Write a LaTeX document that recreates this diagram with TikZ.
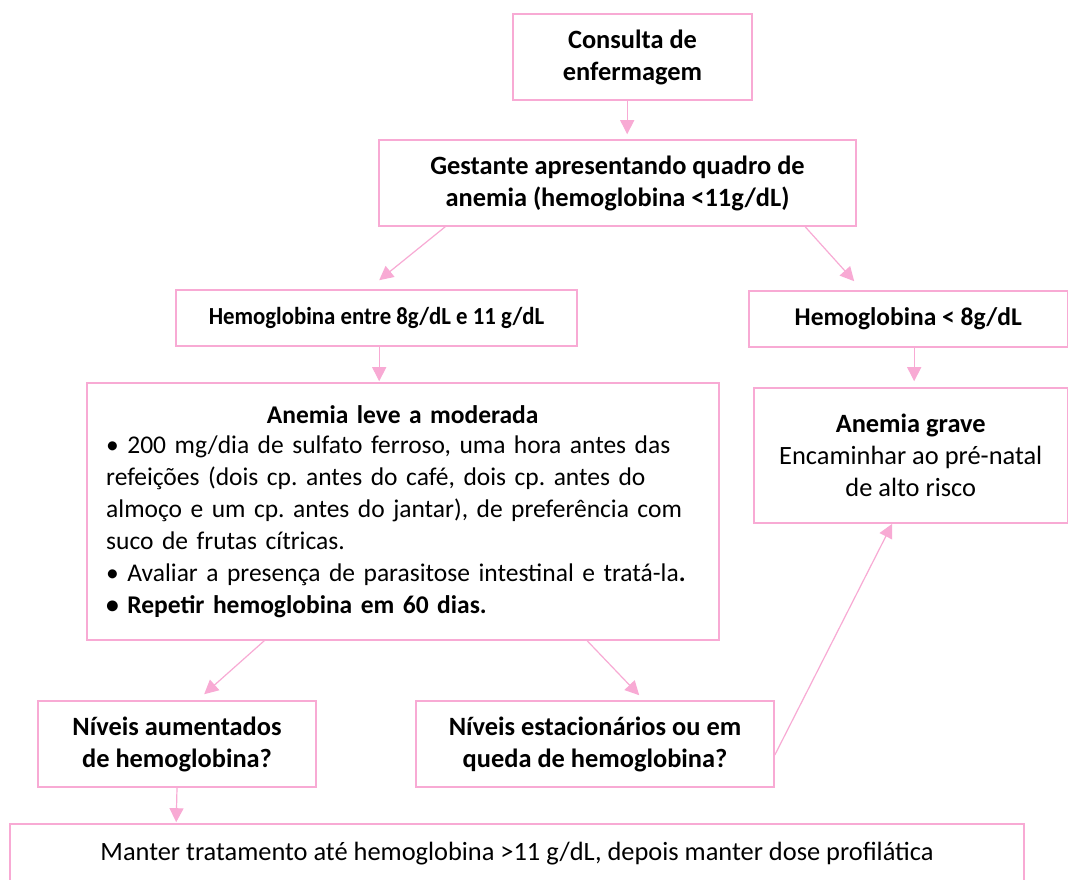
\documentclass[tikz,border=0pt]{standalone}
\usepackage{fontspec}
\setmainfont{Carlito}
\newfontfamily\narrowfont[FakeStretch=0.93]{Carlito}
\usetikzlibrary{arrows.meta,calc}
\definecolor{pk}{RGB}{248,170,212}
\begin{document}
\frenchspacing
\begin{tikzpicture}[x=1pt,y=-1pt,
  box/.style={draw=pk, line width=1.6pt, rectangle, inner sep=0pt,
    font=\fontsize{26.4}{32}\selectfont, align=center},
  bbox/.style={box, font=\fontsize{26.4}{32}\selectfont\bfseries},
  txt/.style={inner sep=0pt, font=\fontsize{25.5}{32}\selectfont},
  arr/.style={draw=pk, line width=1.2pt, -{Triangle[length=14pt,width=14pt]}},
]
\useasboundingbox (0,0) rectangle (1069,880);
\fill[white] (0,0) rectangle (1069,880);

\node[bbox, minimum width=239pt, minimum height=86pt] (b1) at (632.5,57) {Consulta de\\enfermagem};
\node[bbox, minimum width=477pt, minimum height=86pt] (b2) at (617.5,183) {Gestante apresentando quadro de\\anemia (hemoglobina <11g/dL)};
\node[bbox, minimum width=401pt, minimum height=56pt, font=\narrowfont\fontsize{24.5}{32}\selectfont\bfseries] (b3) at (376.5,318) {Hemoglobina entre 8g/dL e 11 g/dL};
\node[bbox, minimum width=318.5pt, minimum height=56pt, font=\fontsize{25.5}{32}\selectfont\bfseries] (b4) at (908.25,319) {Hemoglobina < 8g/dL};
\node[box, minimum width=313.5pt, minimum height=135pt] (b5) at (910.75,455.5) {\textbf{Anemia grave}\\Encaminhar ao pré-natal\\de alto risco};
\node[box, minimum width=632pt, minimum height=257pt] (b6) at (403,511.5) {};
\node[txt, anchor=north west, text width=593pt] (t6) at (106,405.5) {%
{\centering\bfseries Anemia leve a moderada\par}\vspace{-2pt}%
\noindent\makebox[\linewidth][s]{• 200 mg/dia de sulfato ferroso, uma hora antes das}\par
\noindent\makebox[\linewidth][s]{refeições (dois cp. antes do café, dois cp. antes do}\par
\noindent\makebox[\linewidth][s]{almoço e um cp. antes do jantar), de preferência com}\par
\noindent suco de frutas cítricas.\par
\noindent• Avaliar a presença de parasitose intestinal e tratá-la\textbf{.}\par
\noindent\textbf{• Repetir hemoglobina em 60 dias.}\par};
\node[bbox, minimum width=278pt, minimum height=86pt] (b7) at (177,744) {Níveis aumentados\\de hemoglobina?};
\node[bbox, minimum width=358pt, minimum height=86pt] (b8) at (595,744) {Níveis estacionários ou em\\queda de hemoglobina?};
\node[box, minimum width=1014pt, minimum height=60pt] (b9) at (517,854) {Manter tratamento até hemoglobina >11 g/dL, depois manter dose profilática};

\draw[arr] ($(b1.south west)+(115,0)$) -- ($(b2.north west)+(249,-5)$);
\draw[arr] ($(b2.south west)+(67,0)$) -- ($(b3.north west)+(204,-9)$);
\draw[arr] ($(b2.south west)+(427,0)$) -- ($(b4.north west)+(106,-9)$);
\draw[arr] ($(b3.south west)+(204,0)$) -- ($(b6.north west)+(293,-1)$);
\draw[arr] ($(b4.south west)+(166,0)$) -- ($(b5.north west)+(161,-6)$);
\draw[arr] ($(b6.south west)+(178,0)$) -- ($(b7.north west)+(167,-6)$);
\draw[arr] ($(b6.south west)+(501,0)$) -- ($(b8.north west)+(224,-5)$);
\draw[arr] (b7.south) -- ($(b9.north west)+(167,-1)$);
\draw[arr] ($(b8.east)+(0,11)$) -- ($(b5.south west)+(139,0)$);
\end{tikzpicture}
\end{document}
